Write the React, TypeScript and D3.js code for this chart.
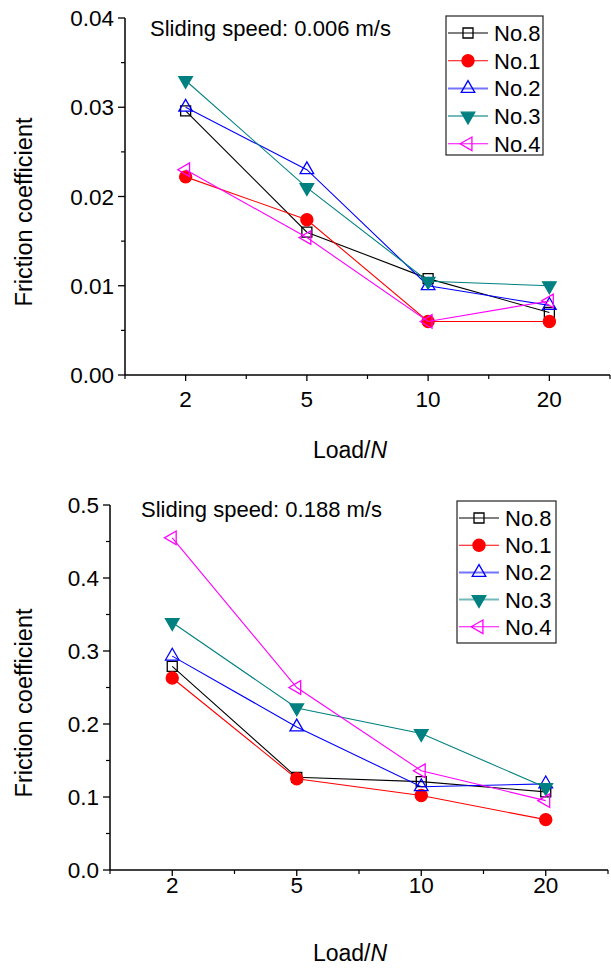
import React from 'react';
import * as d3 from 'd3';

const loads = ['2', '5', '10', '20'];
const seriesNames = ['No.8', 'No.1', 'No.2', 'No.3', 'No.4'];
const colors = ['#000000', '#ff0000', '#0000ff', '#008080', '#ff00ff'];
const shapes = ['square', 'circle', 'triUp', 'triDown', 'triLeft'];

// sliding speed 0.006 m/s
const slowNo8 = [0.0296, 0.016, 0.0108, 0.007];
const slowNo1 = [0.0222, 0.0174, 0.006, 0.006];
const slowNo2 = [0.030, 0.023, 0.010, 0.0078];
const slowNo3 = [0.033, 0.021, 0.0105, 0.010];
const slowNo4 = [0.023, 0.0154, 0.006, 0.0083];

// sliding speed 0.188 m/s
const fastNo8 = [0.279, 0.127, 0.121, 0.107];
const fastNo1 = [0.263, 0.125, 0.102, 0.069];
const fastNo2 = [0.293, 0.196, 0.114, 0.118];
const fastNo3 = [0.339, 0.222, 0.187, 0.113];
const fastNo4 = [0.455, 0.250, 0.136, 0.095];

const font = 'Arial, "Liberation Sans", sans-serif';
const fs = 22;

function markerPath(shape: string) {
  const sym = d3.symbol();
  if (shape === 'square') return sym.type(d3.symbolSquare).size(100)();
  if (shape === 'circle') return sym.type(d3.symbolCircle).size(115)();
  return sym.type(d3.symbolTriangle).size(80)();
}

function Marker({ shape, color, x, y }: any) {
  const filled = shape === 'circle' || shape === 'triDown';
  const rot = shape === 'triDown' ? 180 : shape === 'triLeft' ? -90 : 0;
  return (
    <path
      d={markerPath(shape) || ''}
      transform={`translate(${x},${y}) rotate(${rot})`}
      fill={filled ? color : 'white'}
      fillOpacity={filled ? 1 : 0}
      stroke={color}
      strokeWidth={1.3}
    />
  );
}

function Panel({ data, yMax, yStep, minorStep, fmt, x0, x1, yTop, yBot, title, titleX, titleY, legX, legY, legW, legH, legRow, tickY, labelY, yLabelY }: any) {
  const x = d3.scaleLinear().domain([-0.5, loads.length - 0.5]).range([x0, x1]);
  const y = d3.scaleLinear().domain([0, yMax]).range([yBot, yTop]);
  const majors = d3.range(0, yMax + yStep / 2, yStep);
  const minors = d3.range(minorStep, yMax, yStep);
  const line = d3.line<number>().x((_, i) => x(i)).y(d => y(d));

  return (
    <g fontFamily={font} fontSize={fs}>
      {data.map((vals: number[], s: number) => (
        <g key={s}>
          <path d={line(vals) || ''} fill="none" stroke={colors[s]} strokeWidth={1.1} />
          {vals.map((v, i) => (
            <Marker key={i} shape={shapes[s]} color={colors[s]} x={x(i)} y={y(v)} />
          ))}
        </g>
      ))}
      {/* axes */}
      <line x1={x0} x2={x0} y1={yTop} y2={yBot} stroke="#000" strokeWidth={1.5} />
      <line x1={x0} x2={x1} y1={yBot} y2={yBot} stroke="#000" strokeWidth={1.5} />
      {majors.map(t => (
        <g key={'m' + t}>
          <line x1={x0 - 7} x2={x0} y1={y(t)} y2={y(t)} stroke="#000" strokeWidth={1.3} />
          <text x={x0 - 11} y={y(t)} dy="0.36em" textAnchor="end" fontSize={22.5}>{fmt(t)}</text>
        </g>
      ))}
      {minors.map(t => (
        <line key={'n' + t} x1={x0 - 4} x2={x0} y1={y(t)} y2={y(t)} stroke="#000" strokeWidth={1.2} />
      ))}
      {loads.map((l, i) => (
        <g key={l}>
          <line x1={x(i)} x2={x(i)} y1={yBot} y2={yBot + 6} stroke="#000" strokeWidth={1.3} />
          <text x={x(i)} y={tickY} textAnchor="middle" fontSize={22.5}>{l}</text>
        </g>
      ))}
      {d3.range(-0.5, loads.length, 1).map(t => (
        <line key={'x' + t} x1={x(t)} x2={x(t)} y1={yBot} y2={yBot + 4} stroke="#000" strokeWidth={1.2} />
      ))}
      <text x={350} y={labelY} textAnchor="middle" fontSize={23}>
        Load/<tspan fontStyle="italic">N</tspan>
      </text>
      <text transform={`translate(32,${yLabelY}) rotate(-90)`} textAnchor="middle" fontSize={23.5}>Friction coefficient</text>
      <text x={titleX} y={titleY}>{title}</text>
      {/* legend */}
      <rect x={legX} y={legY} width={legW} height={legH} fill="white" stroke="#222" strokeWidth={1.2} />
      {seriesNames.map((n, s) => {
        const ry = legY + 17 + s * legRow;
        const faded = s === 2 || s === 3;
        return (
          <g key={n}>
            <line x1={legX + 2} x2={legX + 42} y1={ry} y2={ry} stroke={colors[s]}
              strokeWidth={faded ? 2 : 1.1} strokeOpacity={faded ? 0.55 : 1} />
            <Marker shape={shapes[s]} color={colors[s]} x={legX + 22} y={ry} />
            <text x={legX + 48} y={ry} dy="0.36em">{n}</text>
          </g>
        );
      })}
    </g>
  );
}

export default function App() {
  return (
    <svg width={611} height={970} style={{ position: 'absolute', left: 0, top: 0 }}>
      <rect width={611} height={970} fill="white" />
      <Panel
        data={[slowNo8, slowNo1, slowNo2, slowNo3, slowNo4]}
        yMax={0.04} yStep={0.01} minorStep={0.005} fmt={d3.format('.2f')}
        x0={125} x1={610} yTop={18} yBot={375}
        title="Sliding speed: 0.006 m/s" titleX={150} titleY={36}
        legX={446} legY={16} legW={97} legH={139} legRow={27.7}
        tickY={407} labelY={458} yLabelY={212}
      />
      <Panel
        data={[fastNo8, fastNo1, fastNo2, fastNo3, fastNo4]}
        yMax={0.5} yStep={0.1} minorStep={0.05} fmt={d3.format('.1f')}
        x0={110} x1={608} yTop={505} yBot={870}
        title="Sliding speed: 0.188 m/s" titleX={141} titleY={517}
        legX={457} legY={501} legW={99} legH={142} legRow={27.2}
        tickY={893} labelY={961} yLabelY={703}
      />
    </svg>
  );
}
